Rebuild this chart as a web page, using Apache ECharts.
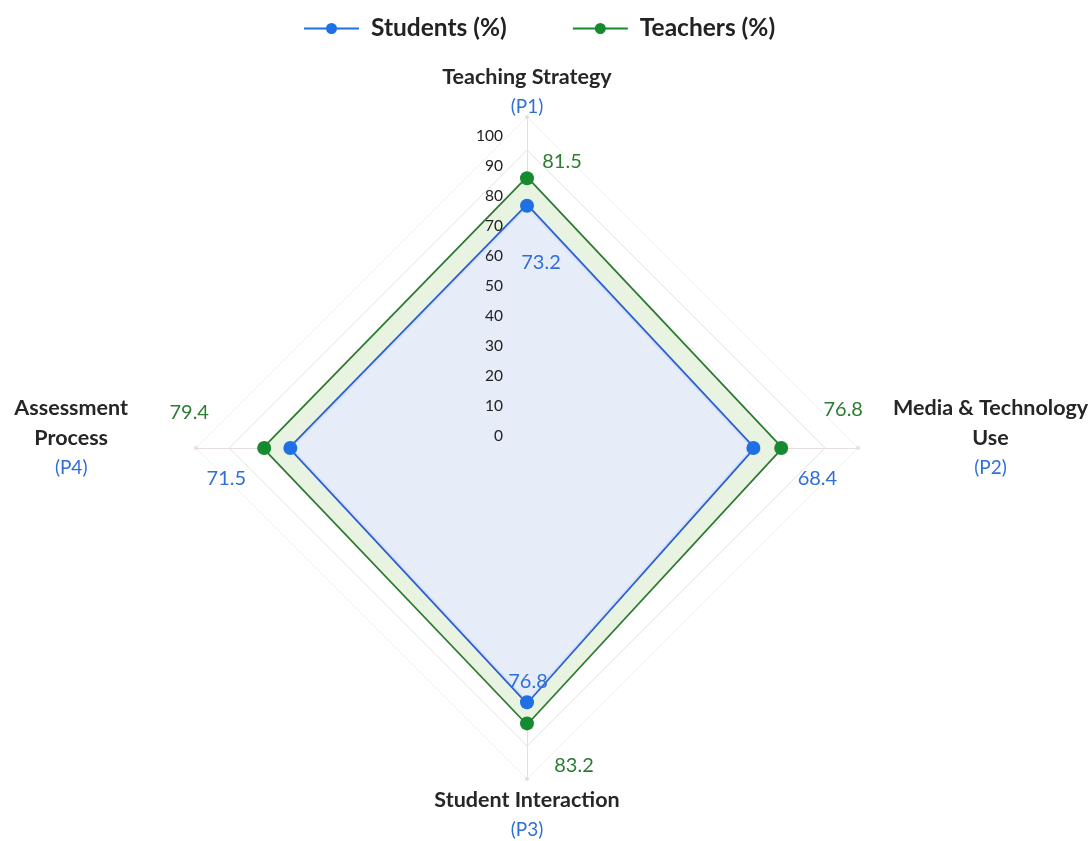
<!DOCTYPE html>
<html>
<head>
<meta charset="utf-8">
<script src="https://cdn.jsdelivr.net/npm/echarts@6/dist/echarts.min.js"></script>
<style>
html,body{margin:0;padding:0;background:#fff;}
#chart{width:1092px;height:841px;}
</style>
</head>
<body>
<div id="chart"></div>
<script>
// ---- data ----
var categories = ['Teaching Strategy', 'Media & Technology\nUse', 'Student Interaction', 'Assessment\nProcess'];
var codes = ['(P1)', '(P2)', '(P3)', '(P4)'];
var students = [73.2, 68.4, 76.8, 71.5];
var teachers = [81.5, 76.8, 83.2, 79.4];
var seriesNames = ['Students (%)', 'Teachers (%)'];
var scaleMax = 100;
var scaleStep = 10;

// ---- styles ----
var BLUE = '#1f6fe5', BLUE_LINE = '#2a5fd0', BLUE_TEXT = '#2f6fd8';
var GREEN = '#168a2e', GREEN_LINE = '#2c7a30', GREEN_TEXT = '#2b7d30';
var FONT = 'Lato, "Noto Sans", sans-serif';

// ECharts radar runs counter-clockwise: show P1 top, P2 right, P3 bottom, P4 left
var order = [0, 3, 2, 1];

// label offsets (dx, dy) relative to each point, per original index
var sOff = [[14, 57], [64, 31], [1, -21], [-64, 31]];
var tOff = [[35, -17], [62, -38], [47, 42], [-75, -35]];
function padFor(o) {
  var dx = o[0], dy = o[1];
  return [dy > 0 ? 2 * dy : 0, dx < 0 ? -2 * dx : 0, dy < 0 ? -2 * dy : 0, dx > 0 ? 2 * dx : 0];
}
function labelRich(offs, color) {
  var r = {};
  offs.forEach(function (o, i) {
    r['k' + i] = { fontSize: 20, color: color, fontFamily: FONT, padding: padFor(o) };
  });
  return r;
}

// axis name paddings per original index: [firstLineTop, right, lastLineBottom, left]
var namePad = [[0, 0, 0, 0], [0, 0, 20, 40], [11, 0, 0, 0], [0, 73, 20, 0]];
var NAME_SIZE = 21.5, LH = 30;
var nameRich = {};
categories.forEach(function (c, i) {
  var p = namePad[i];
  nameRich['f' + i] = { fontSize: NAME_SIZE, fontWeight: 'bold', color: '#262626', fontFamily: FONT, lineHeight: LH + p[0], align: 'center', padding: [p[0], p[1], 0, p[3]] };
  nameRich['n' + i] = { fontSize: NAME_SIZE, fontWeight: 'bold', color: '#262626', fontFamily: FONT, lineHeight: LH, align: 'center', padding: [0, p[1], 0, p[3]] };
  nameRich['c' + i] = { fontSize: 19, color: BLUE_TEXT, fontFamily: FONT, lineHeight: LH + p[2], align: 'center', padding: [0, p[1], p[2], p[3]] };
});

var indicator = order.map(function (i) { return { name: categories[i], min: 0, max: scaleMax }; });
function reorder(arr) { return order.map(function (i) { return arr[i]; }); }

var legendIcon = 'path://M0,5H55V7H0Z M22,6A5.5,5.5 0 1 1 33,6A5.5,5.5 0 1 1 22,6Z';

var chart = echarts.init(document.getElementById('chart'));
chart.setOption({
  backgroundColor: '#ffffff',
  textStyle: { fontFamily: FONT },
  legend: {
    data: [
      { name: seriesNames[0], icon: legendIcon, itemStyle: { color: BLUE } },
      { name: seriesNames[1], icon: legendIcon, itemStyle: { color: GREEN } }
    ],
    left: 299, top: 11,
    itemWidth: 55, itemHeight: 12, itemGap: 66,
    textStyle: { fontSize: 24.5, fontWeight: 'bold', color: '#222', fontFamily: FONT, padding: [0, 0, 0, 7] }
  },
  grid: { left: 507, top: 136, height: 300, width: 1, containLabel: false },
  xAxis: { type: 'value', show: false, min: 0, max: 1 },
  yAxis: {
    type: 'value', min: 0, max: scaleMax, interval: scaleStep, position: 'left', z: 10,
    axisLine: { show: false }, axisTick: { show: false }, splitLine: { show: false },
    axisLabel: { margin: 4, fontSize: 15.5, color: '#222', fontFamily: FONT }
  },
  radar: {
    center: [527, 448],
    radius: 331,
    shape: 'polygon',
    splitNumber: 10,
    indicator: indicator,
    axisNameGap: -5,
    axisName: {
      formatter: function (name) {
        var i = categories.indexOf(name);
        var lines = name.split('\n');
        var s = lines.map(function (l, j) { return '{' + (j === 0 ? 'f' : 'n') + i + '|' + l + '}'; }).join('\n');
        return s + '\n{c' + i + '|' + codes[i] + '}';
      },
      rich: nameRich
    },
    axisLine: { lineStyle: { color: '#e6dede', width: 1 }, symbol: ['none', 'circle'], symbolSize: [4, 4] },
    splitLine: { lineStyle: { color: ['#f0f1f4', '#f0f1f4', '#f0f1f4', '#f0f1f4', '#f0f1f4', '#f0f1f4', '#f0f1f4', '#f0f1f4', '#f0f1f4', '#e2e2e2'], width: 1 } },
    splitArea: { show: false }
  },
  series: [
    {
      type: 'radar',
      z: 2,
      symbol: 'circle', symbolSize: 14,
      lineStyle: { color: GREEN_LINE, width: 3.5 },
      data: [{
        name: seriesNames[1],
        value: reorder(teachers),
        symbol: 'circle', symbolSize: 14,
        itemStyle: { color: GREEN },
        lineStyle: { color: GREEN_LINE, width: 3.5 },
        areaStyle: { color: '#e9f3e1', opacity: 1 },
        label: {
          show: true, position: 'inside', align: 'center', verticalAlign: 'middle',
          formatter: function (p) { var i = teachers.indexOf(p.value); return '{k' + i + '|' + p.value + '}'; },
          rich: labelRich(tOff, GREEN_TEXT)
        }
      }]
    },
    {
      type: 'radar',
      z: 3,
      symbol: 'circle', symbolSize: 14,
      lineStyle: { color: BLUE_LINE, width: 3.5 },
      data: [{
        name: seriesNames[0],
        value: reorder(students),
        symbol: 'circle', symbolSize: 14,
        itemStyle: { color: BLUE },
        lineStyle: { color: BLUE_LINE, width: 3.5 },
        areaStyle: { color: '#e5ecfb', opacity: 0.93 },
        label: {
          show: true, position: 'inside', align: 'center', verticalAlign: 'middle',
          formatter: function (p) { var i = students.indexOf(p.value); return '{k' + i + '|' + p.value + '}'; },
          rich: labelRich(sOff, BLUE_TEXT)
        }
      }]
    }
  ]
});
</script>
</body>
</html>
